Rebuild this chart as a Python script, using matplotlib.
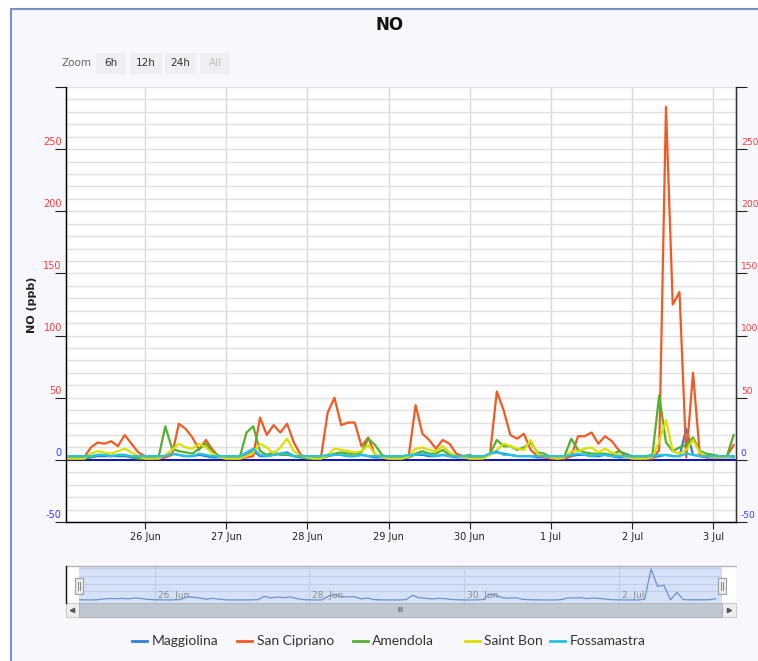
import matplotlib
matplotlib.use('Agg')
import matplotlib.pyplot as plt
import matplotlib.dates as mdates
from matplotlib.patches import Rectangle
from matplotlib.lines import Line2D
from matplotlib.ticker import FuncFormatter, MultipleLocator
import pandas as pd

# --- data (NO, ppb, every 2 hours from 25 Jun 00:00) ---
times = pd.date_range('2014-06-25 00:00', periods=100, freq='2h')

maggiolina = [2, 2, 2, 2, 2, 3, 3, 3, 3, 3, 2, 2,
              2, 2, 2, 3, 5, 4, 3, 3, 4, 3, 2, 2,
              2, 2, 2, 4, 7, 3, 3, 4, 5, 6, 3, 2,
              2, 2, 2, 3, 4, 4, 3, 3, 4, 3, 2, 2,
              2, 2, 2, 3, 4, 4, 3, 3, 4, 3, 2, 2,
              2, 2, 2, 5, 6, 5, 4, 3, 3, 3, 2, 2,
              2, 2, 2, 3, 4, 4, 3, 3, 4, 3, 2, 2,
              2, 2, 2, 2, 3, 4, 3, 3, 25, 4, 3, 2,
              2, 2, 2, 2]

san_cipriano = [2, 2, 1, 2, 10, 14, 13, 15, 11, 20, 13, 6,
                3, 2, 1, 2, 4, 29, 25, 18, 8, 16, 8, 2,
                1, 1, 1, 2, 3, 34, 20, 28, 22, 29, 14, 4,
                2, 1, 2, 38, 50, 28, 30, 30, 11, 18, 4, 2,
                1, 1, 1, 4, 44, 21, 16, 9, 16, 13, 5, 3,
                1, 1, 2, 5, 55, 40, 20, 17, 21, 8, 3, 2,
                1, 1, 1, 3, 19, 19, 22, 13, 19, 15, 8, 3,
                2, 1, 1, 1, 8, 284, 125, 135, 2, 70, 4, 2,
                2, 2, 3, 12]

amendola = [1, 1, 1, 1, 2, 4, 4, 3, 4, 4, 2, 1,
            1, 1, 2, 27, 9, 7, 6, 5, 9, 13, 6, 3,
            2, 1, 2, 22, 27, 7, 4, 6, 4, 4, 3, 2,
            1, 1, 1, 3, 5, 6, 5, 5, 6, 17, 12, 4,
            2, 1, 1, 2, 5, 7, 5, 5, 8, 4, 3, 3,
            4, 2, 2, 5, 16, 11, 11, 8, 10, 14, 6, 5,
            2, 1, 3, 17, 8, 6, 5, 5, 5, 4, 7, 5,
            3, 2, 3, 4, 52, 14, 7, 10, 12, 18, 7, 5,
            4, 3, 3, 20]

saint_bon = [1, 1, 1, 1, 5, 7, 6, 5, 7, 9, 6, 3,
             1, 1, 1, 4, 8, 13, 10, 9, 13, 10, 5, 2,
             1, 1, 1, 3, 6, 13, 10, 5, 10, 17, 7, 3,
             2, 1, 1, 4, 9, 8, 7, 6, 7, 12, 5, 2,
             1, 1, 1, 3, 9, 10, 8, 7, 11, 6, 3, 2,
             1, 1, 1, 4, 8, 13, 11, 9, 8, 16, 5, 3,
             2, 1, 2, 7, 7, 9, 10, 6, 9, 6, 4, 2,
             1, 1, 1, 2, 15, 32, 7, 5, 8, 16, 6, 3,
             2, 2, 2, 3]

fossamastra = [3, 3, 3, 3, 3, 4, 4, 3, 4, 4, 3, 3,
               3, 3, 3, 3, 5, 4, 3, 3, 5, 4, 3, 3,
               3, 3, 3, 6, 9, 4, 3, 4, 5, 5, 3, 3,
               3, 3, 3, 4, 4, 4, 3, 3, 4, 3, 3, 3,
               3, 3, 3, 4, 4, 5, 4, 3, 4, 3, 3, 3,
               3, 3, 3, 5, 7, 4, 4, 3, 3, 3, 3, 3,
               3, 3, 3, 4, 5, 4, 3, 4, 4, 3, 3, 3,
               3, 3, 3, 3, 4, 4, 3, 3, 5, 4, 3, 3,
               3, 3, 3, 3]

names = ['Maggiolina', 'San Cipriano', 'Amendola', 'Saint Bon', 'Fossamastra']
values = [maggiolina, san_cipriano, amendola, saint_bon, fossamastra]
colors = ['#2f7ed8', '#f15a22', '#55b02c', '#dede00', '#25c3e3']

y_labels = [-50, 0, 50, 100, 150, 200, 250]
nav_labels = ['2014-06-26', '2014-06-28', '2014-06-30', '2014-07-02']

W, H = 758, 661


def fx(px):
    return px / W


def fy(py):
    return 1 - py / H


fig = plt.figure(figsize=(W / 100, H / 100), dpi=100, facecolor='white')

# outer chart frame
fig.add_artist(Rectangle((fx(11), -0.01), 1.0, fy(9) + 0.01, transform=fig.transFigure,
                         facecolor='#f7f7fc', edgecolor='#7393c0', lw=1.5, zorder=-2))

# title + zoom buttons
fig.text(fx(390), fy(25), 'NO', ha='center', va='center', fontsize=12, weight='bold', color='#111111')
fig.text(fx(62), fy(63), 'Zoom', ha='left', va='center', fontsize=7.5, color='#666666')
for lab, x0, w, c in [('6h', 96, 30, '#333333'), ('12h', 130, 32, '#333333'),
                      ('24h', 165, 31, '#333333'), ('All', 200, 30, '#c0c0c0')]:
    fig.add_artist(Rectangle((fx(x0), fy(74)), w / W, 21 / H, transform=fig.transFigure,
                             facecolor='#efeff3', edgecolor='none'))
    fig.text(fx(x0 + w / 2), fy(63.5), lab, ha='center', va='center', fontsize=7.5, color=c)

# --- main plot ---
ax = fig.add_axes([fx(66), fy(522), (736 - 66) / W, (522 - 87) / H])
ax.set_facecolor('white')
for name, v, c in zip(names, values, colors):
    ax.plot(times, v, color=c, lw=1.6, label=name, zorder=3)
ax.axhline(0, color='#1010c0', lw=1.4, zorder=2)

ax.set_ylim(-50, 300)
ax.set_xlim(pd.Timestamp('2014-06-25 00:39'), pd.Timestamp('2014-07-03 06:42'))
ax.yaxis.set_major_locator(MultipleLocator(50))
ax.yaxis.set_minor_locator(MultipleLocator(10))
ax.grid(True, which='both', axis='y', color='#e0e0e0', lw=1.0, zorder=0)
ax.xaxis.set_major_locator(mdates.DayLocator())
ax.xaxis.set_major_formatter(FuncFormatter(lambda x, p: '%d %s' % (mdates.num2date(x).day,
                                                                  mdates.num2date(x).strftime('%b'))))
ax.grid(True, which='major', axis='x', color='#d8d8d8', lw=1.0, zorder=0)
ax.tick_params(axis='x', length=5, color='#222222', labelsize=7, labelcolor='#222222', pad=2)
ax.tick_params(axis='y', which='major', length=8, color='#222222', labelleft=False)
ax.tick_params(axis='y', which='minor', length=0)
ax.spines['top'].set_visible(False)
for s in ['left', 'bottom', 'right']:
    ax.spines[s].set_color('#111111')
    ax.spines[s].set_linewidth(1.0)

ax2 = ax.twinx()
ax2.set_ylim(-50, 300)
ax2.yaxis.set_major_locator(MultipleLocator(50))
ax2.tick_params(axis='y', length=8, color='#222222', labelright=False)
ax2.spines['top'].set_visible(False)
ax2.spines['right'].set_color('#333333')

for v in y_labels:
    c = '#ff3b3b' if v > 0 else '#3b3bff'
    ax.annotate(str(v), xy=(0, v), xycoords=ax.get_yaxis_transform(), xytext=(-3, 1.5),
                textcoords='offset points', ha='right', va='bottom', fontsize=7, color=c)
    ax.annotate(str(v), xy=(1, v), xycoords=ax.get_yaxis_transform(), xytext=(3.5, 1.5),
                textcoords='offset points', ha='left', va='bottom', fontsize=6.6, color=c,
                annotation_clip=False)

fig.text(fx(32), fy(305), 'NO (ppb)', rotation=90, ha='center', va='center',
         fontsize=8, weight='bold', color='#222222')

# --- navigator ---
fig.add_artist(Rectangle((fx(66), fy(603)), 670 / W, 37 / H, transform=fig.transFigure,
                         facecolor='white', edgecolor='none', zorder=-1))
nav = fig.add_axes([fx(79), fy(603), (722 - 79) / W, 37 / H])
nav.set_zorder(2)
nav.set_facecolor('#d5e1f6')
nav.plot(times, san_cipriano, color='#6d92cc', lw=0.9)
nav.set_ylim(-27, 312)
nav.set_xlim(pd.Timestamp('2014-06-25 00:30'), pd.Timestamp('2014-07-03 08:00'))
nav.set_yticks([80, 150, 220, 290])
nav.xaxis.set_major_locator(mdates.DayLocator(bymonthday=[2, 26, 28, 30]))
nav.grid(True, color='#bfcde8', lw=0.8)
nav.tick_params(length=0, labelleft=False, labelbottom=False)
for s in nav.spines.values():
    s.set_visible(False)
for d in nav_labels:
    t = pd.Timestamp(d)
    nav.annotate('%d. %s' % (t.day, t.strftime('%b')), xy=(mdates.date2num(t), 0),
                 xycoords=nav.get_xaxis_transform(),
                 xytext=(2, 2), textcoords='offset points', ha='left', va='bottom',
                 fontsize=6.5, color='#8a8a8a')

fig.add_artist(Line2D([fx(66), fx(736)], [fy(566), fy(566)], color='#b5b5b5', lw=1.0, zorder=3))
fig.add_artist(Line2D([fx(66), fx(66)], [fy(566), fy(603)], color='#111111', lw=1.0, zorder=3))
for hx in [79, 722]:
    fig.add_artist(Rectangle((fx(hx - 4), fy(594)), 8 / W, 16 / H, transform=fig.transFigure,
                             facecolor='#ececec', edgecolor='#a0a0a0', lw=0.8, zorder=3))
    for dx in [-1, 1]:
        fig.add_artist(Line2D([fx(hx + dx), fx(hx + dx)], [fy(590), fy(582)], color='#777777',
                              lw=0.6, zorder=4))

# scrollbar
fig.add_artist(Rectangle((fx(66), fy(617)), 670 / W, 14 / H, transform=fig.transFigure,
                         facecolor='#eeeeee', edgecolor='#cccccc', lw=0.8))
fig.add_artist(Rectangle((fx(79), fy(617)), 643 / W, 14 / H, transform=fig.transFigure,
                         facecolor='#bfc7d1', edgecolor='#b0b6c0', lw=0.8))
fig.text(fx(400), fy(610), 'III', ha='center', va='center', fontsize=5, color='#333333')
fig.add_artist(Line2D([fx(72)], [fy(610)], marker='<', ms=3, color='#555555', transform=fig.transFigure))
fig.add_artist(Line2D([fx(729)], [fy(610)], marker='>', ms=3, color='#555555', transform=fig.transFigure))

# --- legend ---
leg_pos = [(132, 152), (237, 257), (353, 372), (465, 484), (550, 570)]
for (lx, tx), name, c in zip(leg_pos, names, colors):
    fig.add_artist(Line2D([fx(lx), fx(lx + 15)], [fy(641), fy(641)], color=c, lw=2))
    fig.text(fx(tx), fy(641), name, ha='left', va='center', fontsize=10,
             family='Lato', color='#333333')

fig.savefig('out.png', dpi=100, facecolor=fig.get_facecolor())
